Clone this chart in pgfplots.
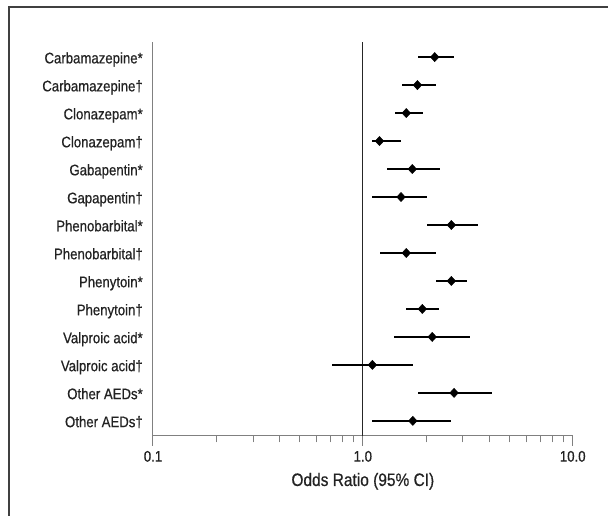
\documentclass[border=0pt]{standalone}
\usepackage{fontspec}
\setmainfont{Liberation Sans}[FakeStretch=0.86, FakeBold=0.6]
\usepackage{pgfplots}
\usepackage{pgfplotstable}
\pgfplotsset{compat=1.18}
\definecolor{axisgray}{HTML}{808080}
\definecolor{framegray}{HTML}{404040}
\definecolor{txt}{HTML}{222222}

% y = row from the bottom, or = odds ratio, lo/hi = 95% CI
\pgfplotstableread{
y  or    lo    hi
14 2.20  1.83  2.72
13 1.82  1.53  2.23
12 1.61  1.42  1.93
11 1.20  1.10  1.52
10 1.72  1.31  2.32
9  1.52  1.11  2.02
8  2.64  2.03  3.52
7  1.61  1.21  2.23
6  2.64  2.23  3.14
5  1.92  1.61  2.31
4  2.14  1.41  3.23
3  1.11  0.71  1.74
2  2.72  1.84  4.12
1  1.73  1.10  2.63
}\ordata

\begin{document}
\begin{tikzpicture}[x=1pt,y=1pt]
\useasboundingbox (0,0) rectangle (456,387);
\draw[line width=1.5pt, framegray] (6.75,0) -- (6.75,382) -- (456,382);
\begin{axis}[
  at={(114.75pt,60pt)}, anchor=south west, scale only axis,
  width=314.8pt, height=295.5pt,
  xmode=log, xmin=0.1, xmax=10, ymin=0.46, ymax=14.54,
  axis x line*=bottom, axis y line*=left,
  axis line style={axisgray, line width=0.75pt, -},
  font=\fontsize{11.5}{13}\selectfont, text=txt,
  xtick={0.1,1,10}, xticklabels={0.1,1.0,10.0},
  tick align=outside, major tick length=7.5pt, minor tick length=4.75pt,
  tick style={axisgray, line width=0.75pt},
  ytick={1,...,14},
  yticklabels={Other AEDs†, Other AEDs*, Valproic acid†, Valproic acid*,
    Phenytoin†, Phenytoin*, Phenobarbital†, Phenobarbital*,
    Gapapentin†, Gabapentin*, Clonazepam†, Clonazepam*,
    Carbamazepine†, Carbamazepine*},
  ytick style={draw=none},
  yticklabel style={anchor=base east, inner sep=0pt, yshift=-4.7pt},
  xticklabel style={anchor=north, inner sep=0pt, yshift=-3.5pt},
  xlabel={Odds Ratio (95\% CI)},
  xlabel style={at={(axis description cs:0.5,0)}, anchor=center, yshift=-34pt,
    font=\fontsize{13.5}{15}\selectfont},
  clip=false,
]
\draw[black!85, line width=0.75pt] (axis cs:1,0.46) -- (axis cs:1,14.54);
\addplot[only marks, black, mark=diamond*, mark size=3.4pt, mark options={xscale=1.25},
  error bars/.cd, x dir=both, x explicit, error mark=none,
  error bar style={black, line width=1pt}]
  table[x=or, y=y,
    x error minus expr=\thisrow{or}-\thisrow{lo},
    x error plus expr=\thisrow{hi}-\thisrow{or}] {\ordata};
\end{axis}
\end{tikzpicture}
\end{document}
